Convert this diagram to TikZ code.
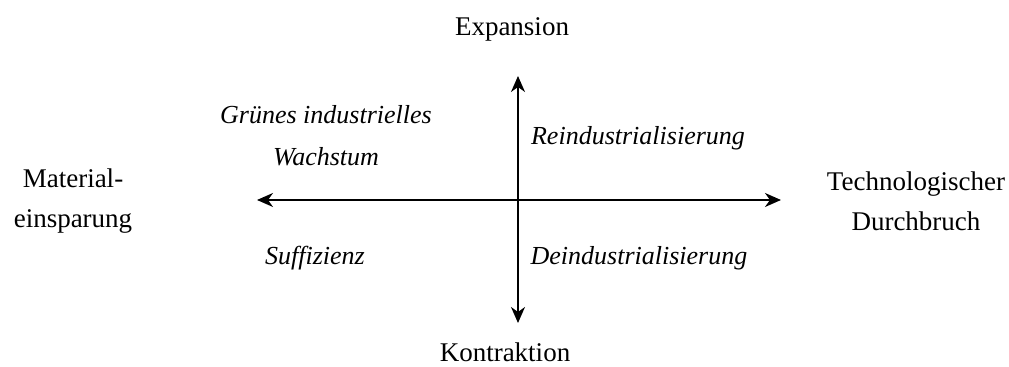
\documentclass[tikz,border=0pt]{standalone}
\usepackage{fontspec}
\setmainfont{Liberation Serif}
\usetikzlibrary{arrows.meta}
\begin{document}
\begin{tikzpicture}[x=0.5pt,y=-0.5pt,
  axislabel/.style={font=\fontsize{13.5}{20}\selectfont, align=center, inner sep=0pt},
  quadlabel/.style={font=\fontsize{13}{21}\selectfont\itshape, align=center, inner sep=0pt},
  axis/.style={line width=0.8pt, {Stealth[length=8pt,width=7pt,inset=2.5pt]}-{Stealth[length=8pt,width=7pt,inset=2.5pt]}}]
\useasboundingbox (0,0) rectangle (1009,367);
\coordinate (top) at (518,76);
\coordinate (bottom) at (518,323);
\coordinate (left) at (257,200);
\coordinate (right) at (781,200);
\draw[axis] (left) -- (right);
\draw[axis] (top) -- (bottom);
\node[axislabel] (expansion) at (512,29) {Expansion};
\node[axislabel] (kontraktion) at (505,352) {Kontraktion};
\node[axislabel] (material) at (73,201) {Material-\\einsparung};
\node[axislabel] (tech) at (916,201) {Technologischer\\Durchbruch};
\node[quadlabel] (gruen) at (326,136) {Grünes industrielles\\Wachstum};
\node[quadlabel] (reind) at (638,138) {Reindustrialisierung};
\node[quadlabel] (suff) at (315,258) {Suffizienz};
\node[quadlabel] (deind) at (639,258) {Deindustrialisierung};
\end{tikzpicture}
\end{document}
